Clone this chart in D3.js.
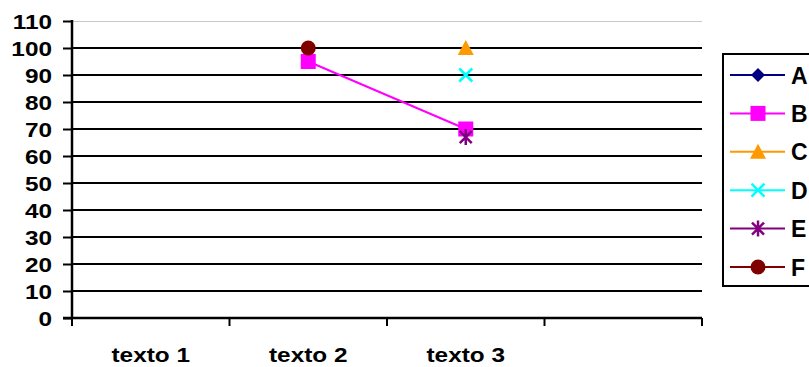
<!DOCTYPE html>
<html>
<head>
<meta charset="utf-8">
<script src="https://cdn.jsdelivr.net/npm/d3@7"></script>
<style>
  html, body { margin: 0; padding: 0; background: #fff; }
  svg { display: block; }
  text { font-family: "Liberation Sans", Arial, Helvetica, sans-serif; font-weight: bold; fill: #000; }
</style>
</head>
<body>
<svg id="chart" width="809" height="367"></svg>
<script>
// Categories on the x axis (the fourth slot is left blank)
const categories = ["texto 1", "texto 2", "texto 3", ""];
const yTicks = [0, 10, 20, 30, 40, 50, 60, 70, 80, 90, 100, 110];

// Series values per category (null = no point)
const seriesNames = ["A", "B", "C", "D", "E", "F"];
const valuesA = [null, null, null, null];
const valuesB = [null, 95, 70, null];
const valuesC = [null, null, 100, null];
const valuesD = [null, null, 90, null];
const valuesE = [null, null, 67, null];
const valuesF = [null, 100, null, null];

const seriesColors = ["#000080", "#ff00ff", "#ff9900", "#00ffff", "#800080", "#800000"];
const seriesSymbols = ["diamond", "square", "triangle", "cross", "star", "circle"];
const seriesValues = [valuesA, valuesB, valuesC, valuesD, valuesE, valuesF];

const series = seriesNames.map((name, i) => ({
  name, color: seriesColors[i], symbol: seriesSymbols[i], values: seriesValues[i]
}));

const svg = d3.select("#chart");
const plot = { left: 72, right: 702, top: 21, bottom: 318 };
const stretch = 1.16; // horizontal widening of the label glyphs

const x = d3.scaleBand().domain(d3.range(categories.length)).range([plot.left, plot.right]);
const y = d3.scaleLinear().domain([0, 110]).range([plot.bottom, plot.top]);

// Plot area top border
svg.append("line")
  .attr("x1", plot.left).attr("x2", plot.right)
  .attr("y1", plot.top + 0.5).attr("y2", plot.top + 0.5)
  .attr("stroke", "#c8c8c8").attr("stroke-width", 1);

// Horizontal gridlines
svg.append("g").selectAll("line")
  .data(yTicks.filter(t => t > 0 && t < 110))
  .join("line")
  .attr("x1", plot.left).attr("x2", plot.right)
  .attr("y1", d => y(d)).attr("y2", d => y(d))
  .attr("stroke", "#000").attr("stroke-width", 2);

// Y axis
const yAxis = svg.append("g")
  .attr("transform", `translate(${plot.left},0)`)
  .call(d3.axisLeft(y).tickValues(yTicks).tickSize(9).tickFormat(""));
yAxis.select(".domain").attr("stroke", "#000").attr("stroke-width", 2.5)
  .attr("d", `M0,${plot.top - 1}V${plot.bottom + 1}`);
yAxis.selectAll(".tick line").attr("stroke", "#000").attr("stroke-width", 2);

svg.append("g").selectAll("text")
  .data(yTicks)
  .join("text")
  .attr("text-anchor", "end")
  .attr("font-size", 21)
  .attr("transform", d => `translate(52,${y(d) + 8}) scale(${stretch},1)`)
  .text(d => d);

// X axis
const xAxis = svg.append("g")
  .attr("transform", `translate(0,${plot.bottom})`)
  .call(d3.axisBottom(x).tickSize(0).tickFormat(""));
xAxis.select(".domain").attr("stroke", "#000").attr("stroke-width", 2.5)
  .attr("d", `M${plot.left - 9},0H${plot.right}`);
xAxis.selectAll(".tick").remove();

// Category boundary ticks
const boundaries = d3.range(categories.length + 1).map(i => plot.left + i * x.bandwidth());
svg.append("g").selectAll("line")
  .data(boundaries)
  .join("line")
  .attr("x1", d => d).attr("x2", d => d)
  .attr("y1", plot.bottom).attr("y2", plot.bottom + 8)
  .attr("stroke", "#000").attr("stroke-width", 2);

svg.append("g").selectAll("text")
  .data(categories)
  .join("text")
  .attr("text-anchor", "middle")
  .attr("font-size", 21)
  .attr("transform", (d, i) => `translate(${x(i) + x.bandwidth() / 2},${plot.bottom + 44}) scale(${stretch},1)`)
  .text(d => d);

// Marker drawing
function drawMarker(g, symbol, color, cx, cy) {
  if (symbol === "diamond") {
    g.append("path").attr("d", `M${cx},${cy - 7}L${cx + 7},${cy}L${cx},${cy + 7}L${cx - 7},${cy}Z`)
      .attr("fill", color);
  } else if (symbol === "square") {
    g.append("rect").attr("x", cx - 7.5).attr("y", cy - 7.5).attr("width", 15).attr("height", 15)
      .attr("fill", color);
  } else if (symbol === "triangle") {
    g.append("path").attr("d", `M${cx},${cy - 8}L${cx + 8},${cy + 7}L${cx - 8},${cy + 7}Z`)
      .attr("fill", color);
  } else if (symbol === "cross") {
    g.append("path").attr("d", `M${cx - 6.5},${cy - 6.5}L${cx + 6.5},${cy + 6.5}M${cx - 6.5},${cy + 6.5}L${cx + 6.5},${cy - 6.5}`)
      .attr("stroke", color).attr("stroke-width", 2.5).attr("fill", "none");
  } else if (symbol === "star") {
    g.append("path").attr("d", `M${cx - 6},${cy - 6}L${cx + 6},${cy + 6}M${cx - 6},${cy + 6}L${cx + 6},${cy - 6}M${cx},${cy - 8}V${cy + 8}`)
      .attr("stroke", color).attr("stroke-width", 2.5).attr("fill", "none");
  } else if (symbol === "circle") {
    g.append("circle").attr("cx", cx).attr("cy", cy).attr("r", 7.5).attr("fill", color);
  }
}

// Series lines and points
const cxOf = i => x(i) + x.bandwidth() / 2;
const line = d3.line()
  .defined(d => d.v !== null)
  .x(d => cxOf(d.i)).y(d => y(d.v));

const marks = svg.append("g");
series.forEach(s => {
  const pts = s.values.map((v, i) => ({ v, i }));
  marks.append("path").datum(pts)
    .attr("d", line).attr("fill", "none")
    .attr("stroke", s.color).attr("stroke-width", 2);
});
series.forEach(s => {
  s.values.forEach((v, i) => {
    if (v !== null) drawMarker(marks, s.symbol, s.color, cxOf(i), y(v));
  });
});

// Legend
const legend = svg.append("g");
legend.append("rect")
  .attr("x", 723).attr("y", 54).attr("width", 100).attr("height", 232)
  .attr("fill", "#fff").attr("stroke", "#000").attr("stroke-width", 2);
const legendY = d3.scalePoint().domain(seriesNames).range([75, 267]);
series.forEach(s => {
  const ly = legendY(s.name);
  legend.append("line").attr("x1", 730).attr("x2", 785).attr("y1", ly).attr("y2", ly)
    .attr("stroke", s.color).attr("stroke-width", 2);
  drawMarker(legend, s.symbol, s.color, 758, ly);
  legend.append("text").attr("x", 791).attr("y", ly + 8.5)
    .attr("font-size", 23).text(s.name);
});
</script>
</body>
</html>
